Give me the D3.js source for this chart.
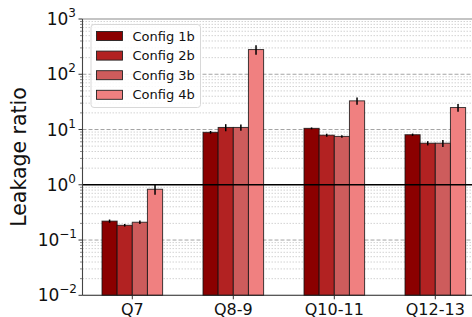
<!DOCTYPE html>
<html><head><meta charset="utf-8">
<script src="https://cdn.jsdelivr.net/npm/d3@7"></script>
<style>body{margin:0;background:#fff}svg{display:block;font-family:"DejaVu Sans",sans-serif}</style>
</head><body><svg id="c" width="472" height="317"></svg>
<script>
const categories = ["Q7", "Q8-9", "Q10-11", "Q12-13"];
const seriesNames = ["Config 1b", "Config 2b", "Config 3b", "Config 4b"];
const colors = ["#8b0000", "#b22222", "#cd5c5c", "#f08080"];
const config1b = [0.22, 8.9, 10.5, 8.05];
const config2b = [0.185, 10.9, 7.9, 5.65];
const config3b = [0.21, 10.9, 7.5, 5.65];
const config4b = [0.83, 280, 33, 25];
const err1b = [0.015, 0.5, 0.4, 0.4];
const err2b = [0.01, 1.6, 0.5, 0.5];
const err3b = [0.015, 1.4, 0.4, 0.8];
const err4b = [0.17, 55, 5, 4];
const yTicks = [-2, -1, 0, 1, 2, 3];

const values = [config1b, config2b, config3b, config4b];
const errs = [err1b, err2b, err3b, err4b];

const svg = d3.select("#c");
const x = d3.scaleLinear().domain([-0.5, 3.5]).range([81.8, 485.8]);
const y = d3.scaleLog().domain([1e-2, 1e3]).range([295.3, 19]);
const pLeft = 82.5, pRight = 472, pTop = 19, pBottom = 295.3;
const barW = 0.15;

// minor grid
const minors = [];
for (let e = -2; e < 3; e++) for (let m = 2; m <= 9; m++) minors.push(m * Math.pow(10, e));
svg.append("g").selectAll("line").data(minors).join("line")
  .attr("x1", pLeft).attr("x2", pRight)
  .attr("y1", d => y(d)).attr("y2", d => y(d))
  .attr("stroke", "#c8c8c8").attr("stroke-width", 0.8).attr("stroke-dasharray", "1.5,1.5");
// major grid
svg.append("g").selectAll("line").data(yTicks.slice(1, 5).filter(e => e !== 0)).join("line")
  .attr("x1", pLeft).attr("x2", pRight)
  .attr("y1", d => y(Math.pow(10, d))).attr("y2", d => y(Math.pow(10, d)))
  .attr("stroke", "#9a9a9a").attr("stroke-width", 0.9).attr("stroke-dasharray", "4,2");

// bars
const gBars = svg.append("g");
values.forEach((vals, s) => {
  const off = (s - 1.5) * barW;
  gBars.append("g").selectAll("rect").data(vals).join("rect")
    .attr("x", (d, i) => x(i + off - barW / 2))
    .attr("width", x(barW) - x(0))
    .attr("y", d => y(d))
    .attr("height", d => pBottom - y(d))
    .attr("fill", colors[s])
    .attr("stroke", "#111").attr("stroke-opacity", 0.8).attr("stroke-width", 1);
});
// horizontal line at 1
svg.append("line").attr("x1", pLeft).attr("x2", pRight)
  .attr("y1", y(1)).attr("y2", y(1)).attr("stroke", "#000").attr("stroke-width", 1.5);
// error bars
values.forEach((vals, s) => {
  const off = (s - 1.5) * barW;
  svg.append("g").selectAll("line").data(vals).join("line")
    .attr("x1", (d, i) => x(i + off)).attr("x2", (d, i) => x(i + off))
    .attr("y1", (d, i) => y(d + errs[s][i])).attr("y2", (d, i) => y(Math.max(d - errs[s][i], 1e-3)))
    .attr("stroke", "#000").attr("stroke-width", 1.5);
});

// spines
svg.append("line").attr("x1", pLeft).attr("x2", pRight).attr("y1", pTop).attr("y2", pTop).attr("stroke", "#8a8a8a").attr("stroke-width", 1.2);
svg.append("line").attr("x1", pLeft).attr("x2", pLeft).attr("y1", pTop).attr("y2", pBottom).attr("stroke", "#444").attr("stroke-width", 1.1);
svg.append("line").attr("x1", pLeft).attr("x2", pRight).attr("y1", pBottom).attr("y2", pBottom).attr("stroke", "#222").attr("stroke-width", 1.1);

// y ticks
const gy = svg.append("g");
gy.selectAll("line.maj").data(yTicks).join("line").attr("class", "maj")
  .attr("x1", pLeft - 4).attr("x2", pLeft).attr("y1", d => y(Math.pow(10, d))).attr("y2", d => y(Math.pow(10, d)))
  .attr("stroke", "#333").attr("stroke-width", 1);
gy.selectAll("line.min").data(minors).join("line").attr("class", "min")
  .attr("x1", pLeft - 2.5).attr("x2", pLeft).attr("y1", d => y(d)).attr("y2", d => y(d))
  .attr("stroke", "#555").attr("stroke-width", 0.7);
const lbl = gy.selectAll("text").data(yTicks).join("text")
  .attr("x", d => d < 0 ? 77 : 76).attr("y", d => y(Math.pow(10, d)) + 6)
  .attr("text-anchor", "end").attr("font-size", 17).attr("fill", "#111");
lbl.append("tspan").text("10");
lbl.append("tspan").attr("font-size", 12).attr("dy", -8).text(d => d < 0 ? "\u2212" + Math.abs(d) : String(d));

// x ticks
const gx = svg.append("g");
gx.selectAll("line").data(categories).join("line")
  .attr("x1", (d, i) => x(i)).attr("x2", (d, i) => x(i))
  .attr("y1", pBottom).attr("y2", pBottom + 4).attr("stroke", "#333");
gx.selectAll("text").data(categories).join("text")
  .attr("x", (d, i) => x(i)).attr("y", 314.5)
  .attr("text-anchor", "middle").attr("font-size", 16).attr("fill", "#111").text(d => d);

// y label
svg.append("text").attr("transform", "translate(25.5,157) rotate(-90)")
  .attr("text-anchor", "middle").attr("font-size", 20.5).attr("fill", "#111").text("Leakage ratio");

// legend
const lg = svg.append("g");
lg.append("rect").attr("x", 91).attr("y", 24.5).attr("width", 109.5).attr("height", 83).attr("rx", 3)
  .attr("fill", "#fff").attr("fill-opacity", 0.85).attr("stroke", "#d8d8d8").attr("stroke-width", 1);
const rows = lg.selectAll("g").data(seriesNames).join("g")
  .attr("transform", (d, i) => `translate(0,${36 + i * 19.6})`);
rows.append("rect").attr("x", 96.5).attr("y", -4.5).attr("width", 26).attr("height", 9)
  .attr("fill", (d, i) => colors[i]).attr("stroke", "#222").attr("stroke-width", 0.9);
rows.append("text").attr("x", 132.5).attr("y", 4.5).attr("font-size", 13).attr("fill", "#111").text(d => d);
</script></body></html>
